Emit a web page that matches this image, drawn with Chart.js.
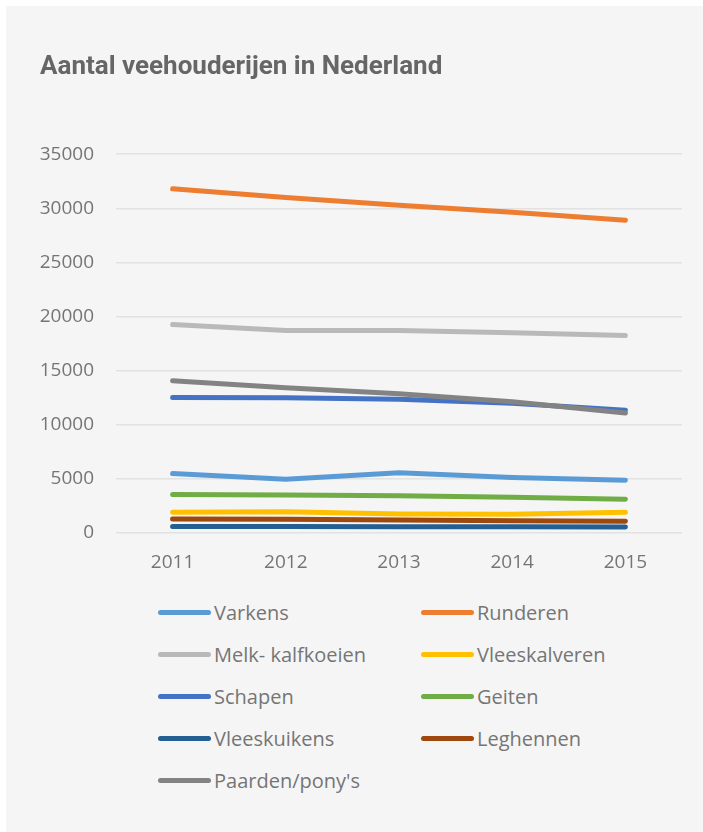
<!DOCTYPE html>
<html>
<head>
<meta charset="utf-8">
<script src="https://cdn.jsdelivr.net/npm/chart.js@4.4.1/dist/chart.umd.min.js"></script>
<style>
    html, body { margin: 0; background: #ffffff; overflow: hidden; }
    #panel { position: absolute; left: 6px; top: 6px; right: 0; bottom: 0; background: #f5f5f5; }
    #chart { position: absolute; left: 0; top: 0; }
    #legend {
        position: absolute; left: 152px; top: 585px;
        display: grid; grid-template-columns: 263px auto; grid-auto-rows: 42.1px;
        font-family: "Open Sans", sans-serif; font-size: 20px; color: #757575;
    }
    .item { display: flex; align-items: center; }
    .swatch { width: 53px; height: 5px; border-radius: 3px; margin-right: 3px; }
</style>
</head>
<body>
<div id="panel">
    <canvas id="chart" width="697" height="580"></canvas>
    <div id="legend"></div>
</div>
<script>
// Aantal veehouderijen in Nederland, 2011-2015
const years = ["2011", "2012", "2013", "2014", "2015"];

const varkens = [5490, 4970, 5560, 5120, 4880];
const runderen = [31800, 31000, 30280, 29630, 28890];
const melkKalfkoeien = [19260, 18700, 18700, 18500, 18240];
const vleeskalveren = [1910, 1970, 1760, 1730, 1910];
const schapen = [12530, 12500, 12350, 11980, 11350];
const geiten = [3550, 3520, 3450, 3300, 3120];
const vleeskuikens = [600, 590, 580, 570, 560];
const leghennen = [1300, 1280, 1200, 1130, 1080];
const paarden = [14070, 13430, 12870, 12130, 11080];

const series = [
    { label: "Varkens", data: varkens, color: "#5b9bd5" },
    { label: "Runderen", data: runderen, color: "#ed7d31" },
    { label: "Melk- kalfkoeien", data: melkKalfkoeien, color: "#b9b9b9" },
    { label: "Vleeskalveren", data: vleeskalveren, color: "#ffc000" },
    { label: "Schapen", data: schapen, color: "#4472c4" },
    { label: "Geiten", data: geiten, color: "#70ad47" },
    { label: "Vleeskuikens", data: vleeskuikens, color: "#255e91" },
    { label: "Leghennen", data: leghennen, color: "#9e480e" },
    { label: "Paarden/pony's", data: paarden, color: "#838383" }
];

const tickFont = { family: "'Open Sans', sans-serif", size: 19 };

const chart = new Chart(document.getElementById("chart"), {
    type: "line",
    data: {
        labels: years,
        datasets: series.map((s, i) => ({
            label: s.label,
            data: s.data,
            borderColor: s.color,
            backgroundColor: s.color,
            borderWidth: 5,
            borderCapStyle: "round",
            borderJoinStyle: "round",
            pointRadius: 0,
            fill: false,
            tension: 0,
            order: series.length - i // later series drawn on top
        }))
    },
    options: {
        responsive: false,
        animation: false,
        layout: { padding: { left: 34, right: 21, top: 0, bottom: 12 } },
        plugins: {
            legend: { display: false },
            tooltip: { enabled: false },
            title: {
                display: true,
                text: "Aantal veehouderijen in Nederland",
                align: "start",
                color: "#666666",
                font: { family: "Roboto, sans-serif", size: 26, weight: "bold" },
                padding: { top: 46, bottom: 71 }
            }
        },
        scales: {
            x: {
                offset: true,
                grid: { display: false, drawTicks: false },
                border: { display: false },
                ticks: { color: "#757575", font: tickFont, padding: 18, maxRotation: 0 },
                afterFit: scale => { scale.height = 41; }
            },
            y: {
                min: 0,
                max: 35000,
                grid: { color: "#e2e2e2", lineWidth: 1.5, drawTicks: false },
                border: { display: false },
                ticks: { stepSize: 5000, color: "#757575", font: tickFont, padding: 22, callback: v => String(v) },
                afterFit: scale => { scale.width = 76; }
            }
        }
    }
});

// legend in two columns, like the original
const legendEl = document.getElementById("legend");
chart.data.datasets.forEach(ds => {
    const item = document.createElement("div");
    item.className = "item";
    const sw = document.createElement("span");
    sw.className = "swatch";
    sw.style.background = ds.borderColor;
    const txt = document.createElement("span");
    txt.textContent = ds.label;
    item.appendChild(sw);
    item.appendChild(txt);
    legendEl.appendChild(item);
});
</script>
</body>
</html>
